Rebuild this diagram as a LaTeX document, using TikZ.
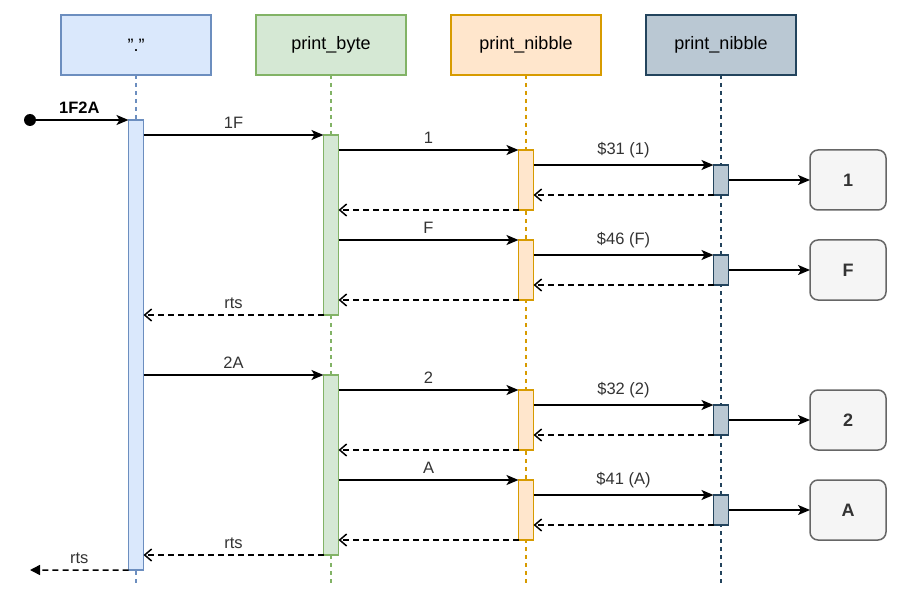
\documentclass[tikz,border=0pt]{standalone}
\usepackage{fontspec}
\setmainfont{Liberation Sans}
\usetikzlibrary{arrows.meta, positioning, calc}

\definecolor{blueFill}{HTML}{DAE8FC}\definecolor{blueLine}{HTML}{6C8EBF}
\definecolor{greenFill}{HTML}{D5E8D4}\definecolor{greenLine}{HTML}{82B366}
\definecolor{orangeFill}{HTML}{FFE6CC}\definecolor{orangeLine}{HTML}{D79B00}
\definecolor{slateFill}{HTML}{BAC8D3}\definecolor{slateLine}{HTML}{23445D}
\definecolor{outFill}{HTML}{F5F5F5}\definecolor{outLine}{HTML}{666666}
\definecolor{outText}{HTML}{333333}

\begin{document}
\begin{tikzpicture}[x=1bp, y=-1bp, line width=1.5bp,
  head/.style={draw, minimum width=150bp, minimum height=60bp, outer sep=0pt, font=\fontsize{18bp}{20bp}\selectfont},
  bar/.style={draw, minimum width=15bp, minimum height=#1, inner sep=0pt, outer sep=0pt, anchor=north},
  outbox/.style={draw=outLine, fill=outFill, rounded corners=8bp, minimum width=76bp, minimum height=60bp, outer sep=0pt, text=outText, font=\fontsize{18bp}{20bp}\selectfont\bfseries},
  call/.style={-{Stealth[length=12bp, width=10bp, inset=3bp]}},
  ret/.style={dash pattern=on 6bp off 4bp, -{Straight Barb[length=7bp, width=12bp, line width=1.5bp]}},
  life/.style={line width=1.2bp, dash pattern=on 4bp off 4bp},
  lbl/.style={above, inner sep=6bp, text=outText, font=\fontsize{16.5bp}{18bp}\selectfont}]
  \useasboundingbox (0,0) rectangle (903,602);

  \node[head, fill=blueFill, draw=blueLine] (hDot) at (136,45) {"."};
  \node[head, fill=greenFill, draw=greenLine] (hByte) at (331,45) {print\_byte};
  \node[head, fill=orangeFill, draw=orangeLine] (hNib) at (526,45) {print\_nibble};
  \node[head, fill=slateFill, draw=slateLine] (hNib2) at (721,45) {print\_nibble};

  \draw[life, draw=blueLine] (hDot.south) -- (hDot.south |- 0,585);
  \draw[life, draw=greenLine] (hByte.south) -- (hByte.south |- 0,585);
  \draw[life, draw=orangeLine] (hNib.south) -- (hNib.south |- 0,585);
  \draw[life, draw=slateLine] (hNib2.south) -- (hNib2.south |- 0,585);

  \node[bar=450bp, fill=blueFill, draw=blueLine] (a1) at (136,120) {};
  \node[bar=180bp, fill=greenFill, draw=greenLine] (b1) at (331,135) {};
  \node[bar=180bp, fill=greenFill, draw=greenLine] (b2) at (331,375) {};

  \coordinate (start) at (30,120);
  \coordinate (exit) at (30,570);
  \fill (start) circle (6bp);
  \draw[call] (start) -- node[lbl, text=black, font=\fontsize{16.5bp}{18bp}\selectfont\bfseries] {1F2A} (a1.north west);
  \draw[call] (a1.east |- b1.north) -- node[lbl] {1F} (b1.north west);
  \draw[call] (a1.east |- b2.north) -- node[lbl] {2A} (b2.north west);

  \foreach \i/\y/\b/\msg/\code/\out in {1/150/b1/1/{\$31 (1)}/1, 2/240/b1/F/{\$46 (F)}/F,
                                        3/390/b2/2/{\$32 (2)}/2, 4/480/b2/A/{\$41 (A)}/A} {
    \node[bar=60bp, fill=orangeFill, draw=orangeLine] (c\i) at (526,\y) {};
    \node[bar=30bp, fill=slateFill, draw=slateLine] (d\i) at (721,{\y+15}) {};
    \node[outbox] (o\i) at (848,{\y+30}) {\out};
    \draw[call] (\b.east |- c\i.north) -- node[lbl] {\msg} (c\i.north west);
    \draw[call] (c\i.east |- d\i.north) -- node[lbl] {\code} (d\i.north west);
    \draw[call] (d\i.east) -- (o\i.west |- d\i.east);
    \draw[ret] (d\i.south west) -- (c\i.east |- d\i.south);
    \draw[ret] (c\i.south west) -- (\b.east |- c\i.south);
  }

  \draw[ret] (b1.south west) -- node[lbl] {rts} (a1.east |- b1.south);
  \draw[ret] (b2.south west) -- node[lbl] {rts} (a1.east |- b2.south);
  \draw[dash pattern=on 6bp off 4bp, -{Triangle[length=10bp, width=10bp]}]
    (a1.south west) -- node[lbl] {rts} (exit);
\end{tikzpicture}
\end{document}
